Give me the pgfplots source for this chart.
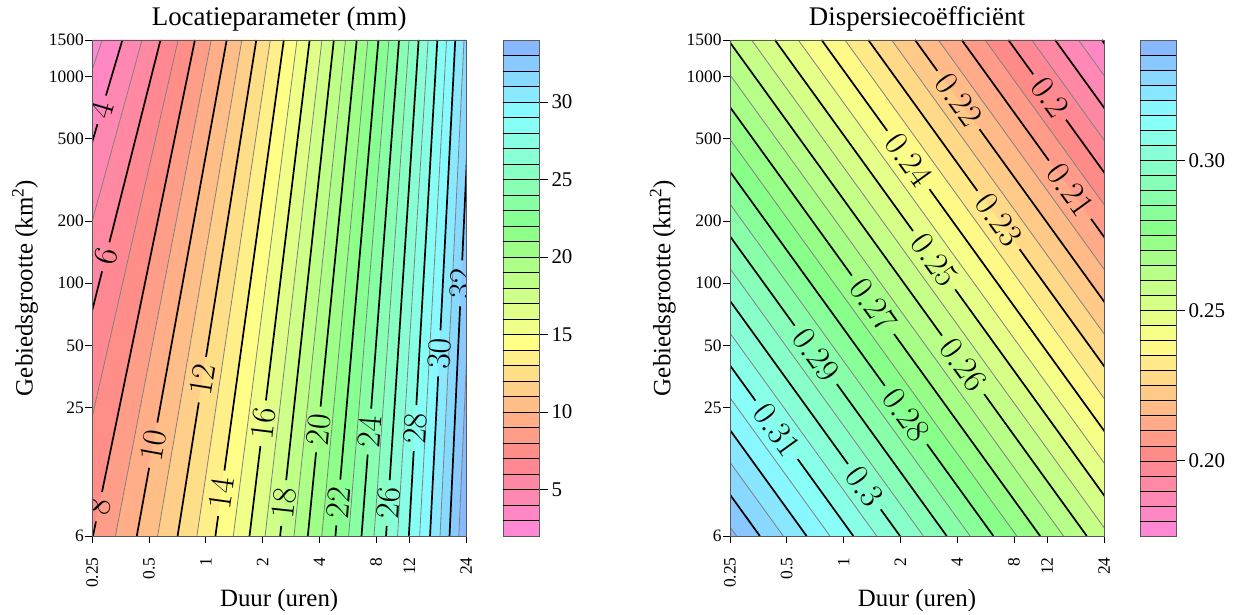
\RequirePackage{fix-cm}
\documentclass[border=0pt]{standalone}
\usepackage{fontspec}
\setmainfont{Liberation Serif}
\usepackage{pgfplots}
\pgfplotsset{compat=1.18}

\pgfplotsset{
  colormap={pastel}{rgb255(0pt)=(255,136,220) rgb255(161pt)=(255,136,136) rgb255(391pt)=(255,255,136) rgb255(620pt)=(136,255,136) rgb255(849pt)=(136,255,255) rgb255(1000pt)=(136,176,255)},
}
\tikzset{
  grayline/.style={black!50, line width=0.8bp},
  blackline/.style={black, line width=1.7bp},
  clab/.style={sloped, font=\fontsize{34}{34}\selectfont, inner sep=0pt, text=black},
}

\newcommand{\gl}[2]{\addplot[grayline] coordinates {(#1,1500) (#2,6)};}
\newcommand{\bl}[2]{\addplot[blackline] coordinates {(#1,1500) (#2,6)};}
\newcommand{\lbl}[6]{\addplot[blackline, dash pattern=on #3bp off #4bp on 3000bp] coordinates {(#1,1500) (#2,6)} node[clab, pos=#5] {$#6$};}

\begin{document}
\begin{tikzpicture}
\useasboundingbox (0,0) rectangle (1247bp,615bp);

% ---------------- Left panel: Locatieparameter ----------------
\begin{axis}[at={(92.3bp,79bp)}, anchor=south west,
    scale only axis, width=373.7bp, height=496bp,
    xmode=log, ymode=log, xmin=0.25, xmax=24, ymin=6, ymax=1500,
    xtick={0.25,0.5,1,2,4,8,12,24}, xticklabels={0.25,0.5,1,2,4,8,12,24},
    ytick={6,25,50,100,200,500,1000,1500}, yticklabels={6,25,50,100,200,500,1000,1500},
    xminorticks=false, yminorticks=false,
    tick align=outside, xtick pos=left, ytick pos=left,
    major tick length=7bp,
    axis line style={black!65, line width=0.8bp},
    tick style={black, line width=0.7bp},
    tick label style={font=\fontsize{17.5}{17.5}\selectfont},
    xticklabel style={yshift=-11bp, rotate=90, anchor=east},
    yticklabel style={xshift=2bp},
    xlabel style={font=\fontsize{25}{25}\selectfont, at={(axis description cs:0.5,-0.13)}, anchor=center},
    ylabel style={font=\fontsize{25}{25}\selectfont, at={(axis description cs:-0.18,0.5)}, anchor=center},
    title style={font=\fontsize{27}{27}\selectfont, at={(axis description cs:0.5,1.030)}, anchor=center},
    xlabel={Duur (uren)}, ylabel={Gebiedsgrootte (km\textsuperscript{2})},
    axis on top, colormap name=pastel, clip=true,
    title={Locatieparameter (mm)},
    point meta min=2, point meta max=34]
\addplot[surf, shader=flat mean, mesh/cols=33, point meta=explicit] table[meta=c] {
x y c
0.2178 1500 2
0.2821 1500 3
0.3611 1500 4
0.4588 1500 5
0.5751 1500 6
0.7130 1500 7
0.8755 1500 8
1.0683 1500 9
1.2911 1500 10
1.5525 1500 11
1.8534 1500 12
2.1991 1500 13
2.5933 1500 14
3.0470 1500 15
3.5541 1500 16
4.1303 1500 17
4.7765 1500 18
5.5104 1500 19
6.3182 1500 20
7.2357 1500 21
8.2359 1500 22
9.3629 1500 23
10.593 1500 24
11.969 1500 25
13.458 1500 26
15.114 1500 27
16.911 1500 28
18.923 1500 29
21.045 1500 30
23.433 1500 31
25.933 1500 32
28.700 1500 33
31.802 1500 34
0.01654 6 2
0.0366 6 3
0.06009 6 4
0.08669 6 5
0.1245 6 6
0.1791 6 7
0.2521 6 8
0.3315 6 9
0.4305 6 10
0.5551 6 11
0.7087 6 12
0.8971 6 13
1.1246 6 14
1.3994 6 15
1.7056 6 16
2.0638 6 17
2.4787 6 18
2.9375 6 19
3.4769 6 20
4.1254 6 21
4.8709 6 22
5.7231 6 23
6.7000 6 24
7.8052 6 25
9.0374 6 26
10.400 6 27
11.939 6 28
13.623 6 29
15.469 6 30
17.479 6 31
19.630 6 32
21.991 6 33
24.607 6 34
};
\gl{0.2821}{0.0366}
\gl{0.4588}{0.08669}
\gl{0.7130}{0.1791}
\gl{1.0683}{0.3315}
\gl{1.5525}{0.5551}
\gl{2.1991}{0.8971}
\gl{3.0470}{1.3994}
\gl{4.1303}{2.0638}
\gl{5.5104}{2.9375}
\gl{7.2357}{4.1254}
\gl{9.3629}{5.7231}
\gl{11.969}{7.8052}
\gl{15.114}{10.400}
\gl{18.923}{13.623}
\gl{23.433}{17.479}
\gl{28.700}{21.991}
\lbl{0.3611}{0.06009}{57.9}{30}{0.141}{4}
\lbl{0.5751}{0.1245}{208.6}{30}{0.437}{6}
\lbl{0.8755}{0.2521}{461.5}{30}{0.941}{8}
\lbl{1.2911}{0.4305}{388.8}{46}{0.817}{10}
\lbl{1.8534}{0.7087}{321.0}{46}{0.685}{12}
\lbl{2.5933}{1.1246}{434.6}{46}{0.914}{14}
\lbl{3.5541}{1.7056}{363.1}{46}{0.773}{16}
\lbl{4.7765}{2.4787}{442.7}{46}{0.934}{18}
\lbl{6.3182}{3.4769}{368.4}{46}{0.786}{20}
\lbl{8.2359}{4.8709}{441.2}{46}{0.933}{22}
\lbl{10.593}{6.7000}{369.7}{46}{0.790}{24}
\lbl{13.458}{9.0374}{441.0}{46}{0.934}{26}
\lbl{16.911}{11.939}{365.8}{46}{0.783}{28}
\lbl{21.045}{15.469}{290.8}{46}{0.632}{30}
\lbl{25.933}{19.630}{220.7}{46}{0.491}{32}
\end{axis}

% ---------------- Left colour key ----------------
\begin{axis}[at={(503bp,79bp)}, anchor=south west,
    scale only axis, width=36bp, height=496bp,
    xmin=0, xmax=1, xtick=\empty, ymin=2, ymax=34,
    ytick={5,10,15,20,25,30}, yticklabels={5,10,15,20,25,30},
    ytick pos=right, yticklabel pos=right, tick align=outside,
    major tick length=9bp,
    axis line style={black!65, line width=0.8bp},
    tick style={black, line width=0.7bp},
    yticklabel style={font=\fontsize{21}{21}\selectfont, anchor=west},
    extra y ticks={3,4,...,33},
    extra y tick style={major tick length=0pt, grid=major, major grid style={black, line width=0.6bp}},
    extra y tick labels={},
    axis on top, colormap name=pastel,
    point meta min=2, point meta max=34]
\addplot[surf, shader=flat mean, mesh/cols=2, point meta=explicit] table[meta=c] {
x y c
0 2 2
1 2 2
0 3 3
1 3 3
0 4 4
1 4 4
0 5 5
1 5 5
0 6 6
1 6 6
0 7 7
1 7 7
0 8 8
1 8 8
0 9 9
1 9 9
0 10 10
1 10 10
0 11 11
1 11 11
0 12 12
1 12 12
0 13 13
1 13 13
0 14 14
1 14 14
0 15 15
1 15 15
0 16 16
1 16 16
0 17 17
1 17 17
0 18 18
1 18 18
0 19 19
1 19 19
0 20 20
1 20 20
0 21 21
1 21 21
0 22 22
1 22 22
0 23 23
1 23 23
0 24 24
1 24 24
0 25 25
1 25 25
0 26 26
1 26 26
0 27 27
1 27 27
0 28 28
1 28 28
0 29 29
1 29 29
0 30 30
1 30 30
0 31 31
1 31 31
0 32 32
1 32 32
0 33 33
1 33 33
0 34 34
1 34 34
};
\end{axis}

% ---------------- Right panel: Dispersiecoefficient ----------------
\begin{axis}[at={(730bp,79bp)}, anchor=south west,
    scale only axis, width=374bp, height=496bp,
    xmode=log, ymode=log, xmin=0.25, xmax=24, ymin=6, ymax=1500,
    xtick={0.25,0.5,1,2,4,8,12,24}, xticklabels={0.25,0.5,1,2,4,8,12,24},
    ytick={6,25,50,100,200,500,1000,1500}, yticklabels={6,25,50,100,200,500,1000,1500},
    xminorticks=false, yminorticks=false,
    tick align=outside, xtick pos=left, ytick pos=left,
    major tick length=7bp,
    axis line style={black!65, line width=0.8bp},
    tick style={black, line width=0.7bp},
    tick label style={font=\fontsize{17.5}{17.5}\selectfont},
    xticklabel style={yshift=-11bp, rotate=90, anchor=east},
    yticklabel style={xshift=2bp},
    xlabel style={font=\fontsize{25}{25}\selectfont, at={(axis description cs:0.5,-0.13)}, anchor=center},
    ylabel style={font=\fontsize{25}{25}\selectfont, at={(axis description cs:-0.18,0.5)}, anchor=center},
    title style={font=\fontsize{27}{27}\selectfont, at={(axis description cs:0.5,1.030)}, anchor=center},
    xlabel={Duur (uren)}, ylabel={Gebiedsgrootte (km\textsuperscript{2})},
    axis on top, colormap name=pastel, clip=true,
    title={Dispersiecoëfficiënt},
    point meta min=0.175, point meta max=0.34]
\addplot[surf, shader=flat mean, mesh/cols=34, point meta=explicit] table[meta=c] {
x y c
31.07 1500 0.175
23.366 1500 0.180
17.572 1500 0.185
13.215 1500 0.190
9.938 1500 0.195
7.4737 1500 0.200
5.6205 1500 0.205
4.2268 1500 0.210
3.1787 1500 0.215
2.3905 1500 0.220
1.79773 1500 0.225
1.35196 1500 0.230
1.01672 1500 0.235
0.764607 1500 0.240
0.575013 1500 0.245
0.43243 1500 0.250
0.325203 1500 0.255
0.244564 1500 0.260
0.18392 1500 0.265
0.138315 1500 0.270
0.104017 1500 0.275
0.078225 1500 0.280
0.058828 1500 0.285
0.044241 1500 0.290
0.033271 1500 0.295
0.025021 1500 0.300
0.018817 1500 0.305
0.014151 1500 0.310
0.010642 1500 0.315
0.0080029 1500 0.320
0.0060185 1500 0.325
0.0045261 1500 0.330
0.0034038 1500 0.335
0.0025598 1500 0.340
2471.8 6 0.175
1858.9 6 0.180
1397.9 6 0.185
1051.3 6 0.190
790.6 6 0.195
594.57 6 0.200
447.13 6 0.205
336.26 6 0.210
252.88 6 0.215
190.18 6 0.220
143.02 6 0.225
107.55 6 0.230
80.885 6 0.235
60.828 6 0.240
45.745 6 0.245
34.402 6 0.250
25.871 6 0.255
19.456 6 0.260
14.632 6 0.265
11.004 6 0.270
8.2751 6 0.275
6.2231 6 0.280
4.68 6 0.285
3.5196 6 0.290
2.6468 6 0.295
1.9905 6 0.300
1.497 6 0.305
1.1258 6 0.310
0.8466 6 0.315
0.63667 6 0.320
0.4788 6 0.325
0.36007 6 0.330
0.27078 6 0.335
0.20364 6 0.340
};
\gl{17.572}{1397.9}
\gl{9.938}{790.6}
\gl{5.6205}{447.13}
\gl{3.1787}{252.88}
\gl{1.79773}{143.02}
\gl{1.01672}{80.885}
\gl{0.575013}{45.745}
\gl{0.325203}{25.871}
\gl{0.18392}{14.632}
\gl{0.104017}{8.2751}
\gl{0.058828}{4.68}
\gl{0.033271}{2.6468}
\gl{0.018817}{1.497}
\gl{0.010642}{0.8466}
\gl{0.0060185}{0.4788}
\gl{0.0034038}{0.27078}
\bl{23.366}{1858.9}
\bl{13.215}{1051.3}
\bl{0.0080029}{0.63667}
\bl{0.0045261}{0.36007}
\lbl{7.4737}{594.57}{42.4}{56}{0.115}{0.2}
\lbl{4.2268}{336.26}{148.8}{72}{0.302}{0.21}
\lbl{2.3905}{190.18}{38.1}{72}{0.121}{0.22}
\lbl{1.35196}{107.55}{186.2}{72}{0.363}{0.23}
\lbl{0.764607}{60.828}{112.1}{72}{0.242}{0.24}
\lbl{0.43243}{34.402}{235.7}{72}{0.444}{0.25}
\lbl{0.244564}{19.456}{364.9}{72}{0.655}{0.26}
\lbl{0.138315}{11.004}{290.8}{72}{0.534}{0.27}
\lbl{0.078225}{6.2231}{426.7}{72}{0.756}{0.28}
\lbl{0.044241}{3.5196}{352.6}{72}{0.635}{0.29}
\lbl{0.025021}{1.9905}{523.2}{56}{0.9006}{0.3}
\lbl{0.014151}{1.1258}{445.1}{72}{0.786}{0.31}
\end{axis}

% ---------------- Right colour key ----------------
\begin{axis}[at={(1140bp,79bp)}, anchor=south west,
    scale only axis, width=36bp, height=496bp,
    xmin=0, xmax=1, xtick=\empty, ymin=0.175, ymax=0.34,
    ytick={0.2,0.25,0.3}, yticklabels={0.20,0.25,0.30},
    ytick pos=right, yticklabel pos=right, tick align=outside,
    major tick length=9bp,
    axis line style={black!65, line width=0.8bp},
    tick style={black, line width=0.7bp},
    yticklabel style={font=\fontsize{21}{21}\selectfont, anchor=west},
    extra y ticks={0.18,0.185,0.19,0.195,0.2,0.205,0.21,0.215,0.22,0.225,0.23,0.235,0.24,0.245,0.25,0.255,0.26,0.265,0.27,0.275,0.28,0.285,0.29,0.295,0.3,0.305,0.31,0.315,0.32,0.325,0.33,0.335},
    extra y tick style={major tick length=0pt, grid=major, major grid style={black, line width=0.6bp}},
    extra y tick labels={},
    axis on top, colormap name=pastel,
    point meta min=0.175, point meta max=0.34]
\addplot[surf, shader=flat mean, mesh/cols=2, point meta=explicit] table[meta=c] {
x y c
0 0.175 0.175
1 0.175 0.175
0 0.180 0.180
1 0.180 0.180
0 0.185 0.185
1 0.185 0.185
0 0.190 0.190
1 0.190 0.190
0 0.195 0.195
1 0.195 0.195
0 0.200 0.200
1 0.200 0.200
0 0.205 0.205
1 0.205 0.205
0 0.210 0.210
1 0.210 0.210
0 0.215 0.215
1 0.215 0.215
0 0.220 0.220
1 0.220 0.220
0 0.225 0.225
1 0.225 0.225
0 0.230 0.230
1 0.230 0.230
0 0.235 0.235
1 0.235 0.235
0 0.240 0.240
1 0.240 0.240
0 0.245 0.245
1 0.245 0.245
0 0.250 0.250
1 0.250 0.250
0 0.255 0.255
1 0.255 0.255
0 0.260 0.260
1 0.260 0.260
0 0.265 0.265
1 0.265 0.265
0 0.270 0.270
1 0.270 0.270
0 0.275 0.275
1 0.275 0.275
0 0.280 0.280
1 0.280 0.280
0 0.285 0.285
1 0.285 0.285
0 0.290 0.290
1 0.290 0.290
0 0.295 0.295
1 0.295 0.295
0 0.300 0.300
1 0.300 0.300
0 0.305 0.305
1 0.305 0.305
0 0.310 0.310
1 0.310 0.310
0 0.315 0.315
1 0.315 0.315
0 0.320 0.320
1 0.320 0.320
0 0.325 0.325
1 0.325 0.325
0 0.330 0.330
1 0.330 0.330
0 0.335 0.335
1 0.335 0.335
0 0.340 0.340
1 0.340 0.340
};
\end{axis}
\end{tikzpicture}
\end{document}
